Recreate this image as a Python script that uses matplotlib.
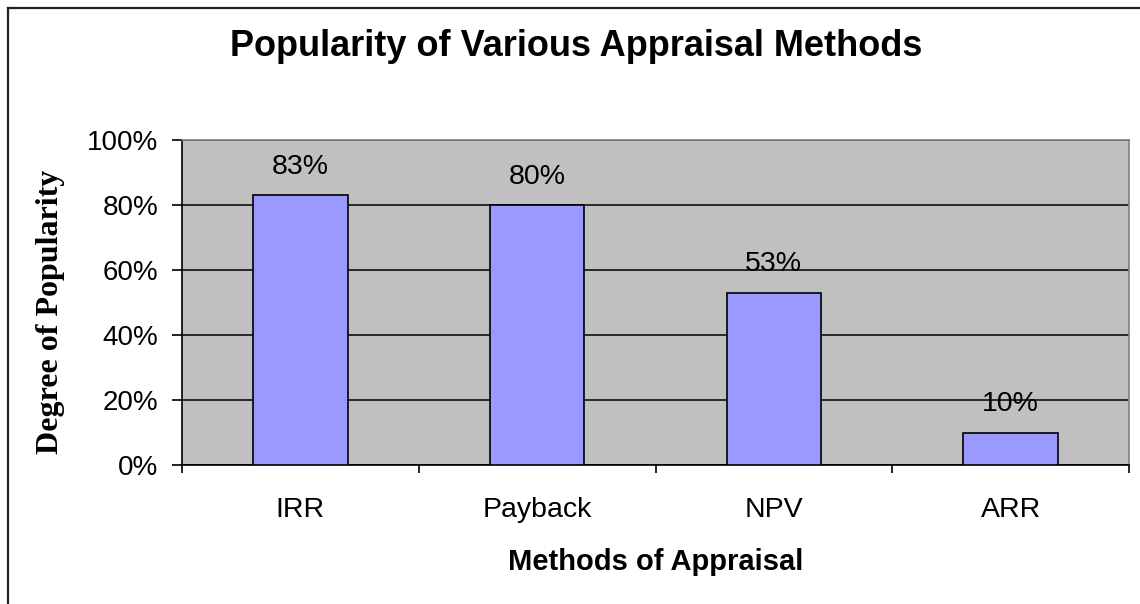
import matplotlib.pyplot as plt
from matplotlib.lines import Line2D
import numpy as np

# data
methods = ["IRR", "Payback", "NPV", "ARR"]
popularity = [83, 80, 53, 10]
y_ticks = [0, 20, 40, 60, 80, 100]

W, H = 1140, 604
fig = plt.figure(figsize=(W / 100, H / 100), dpi=100)
ax = fig.add_axes([182 / W, 1 - 465 / H, (1129 - 182) / W, (465 - 140) / H])

ax.set_facecolor("#C0C0C0")
x = np.arange(len(methods))
bars = ax.bar(x, popularity, width=0.4, color="#9999FF", edgecolor="black",
              linewidth=1.2, zorder=3)

for b, v in zip(bars, popularity):
    ax.annotate(f"{v}%", (b.get_x() + b.get_width() / 2, v),
                xytext=(0, 11), textcoords="offset points",
                ha="center", va="bottom", fontsize=20.5,
                family="Liberation Sans", zorder=4)

ax.set_xlim(-0.5, len(methods) - 0.5)
ax.set_ylim(0, 100)
ax.set_yticks(y_ticks)
ax.set_yticklabels([f"{t}%" for t in y_ticks], family="Liberation Sans", fontsize=20)
ax.yaxis.grid(True, color="black", linewidth=1.1, zorder=1)
ax.set_axisbelow(True)

ax.set_xticks(x)
ax.set_xticklabels(methods, family="Liberation Sans", fontsize=20.5)
ax.set_xticks(np.arange(-0.5, len(methods)), minor=True)
ax.tick_params(axis="x", which="major", length=0, pad=23)
ax.tick_params(axis="x", which="minor", length=6, width=1.2, direction="out")
ax.tick_params(axis="y", length=7, width=1.2, direction="out", pad=10)

for side in ["top", "right"]:
    ax.spines[side].set_color("#808080")
    ax.spines[side].set_linewidth(1.2)
for side in ["left", "bottom"]:
    ax.spines[side].set_color("black")
    ax.spines[side].set_linewidth(1.2)

ax.set_xlabel("Methods of Appraisal", family="Liberation Sans",
              fontweight="bold", fontsize=21)
ax.xaxis.set_label_coords(0.5, -0.254)
ax.set_ylabel("Degree of Popularity", family="Liberation Serif",
              fontweight="bold", fontsize=23)
ax.yaxis.set_label_coords(-0.1235, 0.47)

fig.text(576 / W, 1 - 46 / H, "Popularity of Various Appraisal Methods",
         family="Liberation Sans", fontweight="bold", fontsize=26,
         ha="center", va="center")

# outer border (only top and left edges are visible)
fig.add_artist(Line2D([8 / W, 1], [1 - 7.5 / H, 1 - 7.5 / H], color="#222222",
                      linewidth=1.6, transform=fig.transFigure))
fig.add_artist(Line2D([8 / W, 8 / W], [0, 1 - 7.5 / H], color="#222222",
                      linewidth=1.6, transform=fig.transFigure))

fig.savefig("out.png", dpi=100)
